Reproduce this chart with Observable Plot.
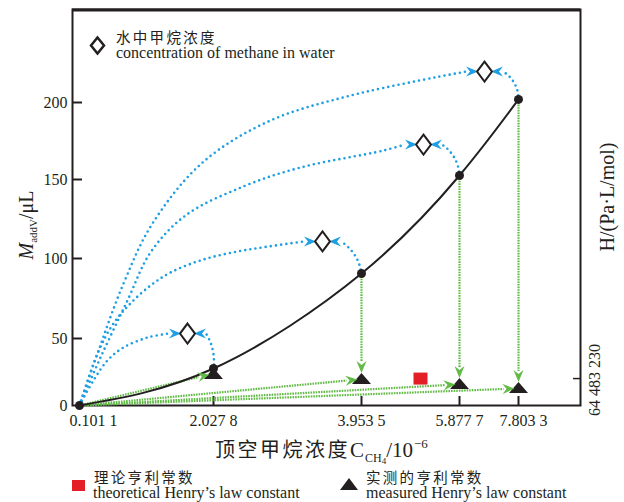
<!DOCTYPE html>
<html><head><meta charset="utf-8">
<script src="https://cdn.jsdelivr.net/npm/d3@7"></script>
<script src="https://cdn.jsdelivr.net/npm/@observablehq/plot@0.6"></script>
<style>
body{margin:0;background:#fff;}
#wrap{position:relative;width:624px;height:502px;overflow:hidden;font-family:"Liberation Serif","Noto Sans CJK SC",serif;color:#231f20;}
.t{position:absolute;white-space:nowrap;}
.cjk{font-family:"Noto Sans CJK SC",sans-serif;}
.rot{transform:translate(-50%,-50%) rotate(-90deg);}
</style></head><body>
<div id="wrap"><div id="chart"></div>
<div class="t cjk" style="left:116px;top:30px;font-size:14.5px;line-height:13px;letter-spacing:2.3px">水中甲烷浓度</div>
<div class="t" style="left:116px;top:46px;font-size:16px;line-height:13px">concentration of methane in water</div>

<div class="t" style="left:215px;top:439px;font-size:21px;line-height:20px"><span class="cjk" style="font-size:20px;letter-spacing:2.5px">顶空甲烷浓度</span>C<span style="font-size:12px;position:relative;top:5px;margin-left:1px">CH<span style="font-size:9px;position:relative;top:2px">4</span></span>/10<span style="font-size:13px;position:relative;top:-9px;margin-left:1px">−6</span></div>

<div class="t rot" style="left:27px;top:225px;font-size:20px;line-height:20px"><i>M</i><span style="font-size:11px;position:relative;top:4px">addV</span>/μL</div>
<div class="t rot" style="left:607px;top:197px;font-size:20px;line-height:20px">H/(Pa·L/mol)</div>
<div class="t rot" id="hlabel" style="left:595px;top:380px;font-size:16px;line-height:16px"></div>

<div class="t" style="left:72px;top:480px;width:13px;height:11px;background:#e41e26"></div>
<div class="t cjk" style="left:94px;top:470px;font-size:14.5px;line-height:13px;letter-spacing:2.3px">理论亨利常数</div>
<div class="t" style="left:93px;top:486px;font-size:16px;line-height:13px">theoretical Henry’s law constant</div>
<svg class="t" style="left:340px;top:478px" width="18" height="12"><path d="M9,0L18,12L0,12Z" fill="#231f20"/></svg>
<div class="t cjk" style="left:366px;top:470px;font-size:14.5px;line-height:13px;letter-spacing:2.3px">实测的亨利常数</div>
<div class="t" style="left:366px;top:486px;font-size:16px;line-height:13px">measured Henry’s law constant</div>
</div>
<script>
const BLACK = "#231f20", BLUE = "#1e9fe3", GREEN = "#62bb46", RED = "#e41e26";

// ---- data ----
const xTicks = [0.1011, 2.0278, 3.9535, 5.8777, 7.8033];
const xTickLabels = ["0.101 1", "2.027 8", "3.953 5", "5.877 7", "7.803 3"];
const yTicks = [0, 50, 100, 150, 200];
const curveY = [0, 27.6, 90.6, 152.6, 202];          // M_addV at each headspace concentration
const diamondX = [1.654, 3.446, 5.171, 6.694];       // concentration of methane in water
const diamondY = [53.1, 110.8, 172.7, 220.1];
const measuredH = [23.9, 20.1, 16.4, 13.4];          // measured Henry's constant (display level)
const theoreticalX = 5.112;
const theoreticalH = 20.1;
const theoreticalLabel = "64 483 230";
// blue dotted guide paths from origin to each diamond (waypoints)
const path1X = [0.302, 0.504, 0.734, 1.079];
const path1Y = [18.7, 33.6, 43.3, 50.6];
const path2X = [0.360, 0.590, 0.834, 1.122, 1.410, 1.884, 2.340, 2.743];
const path2Y = [38.8, 59.4, 71.9, 83.1, 91.25, 99.4, 104.4, 107.6];
const path3X = [0.403, 0.791, 1.122, 1.625, 2.418, 3.160, 4.385];
const path3Y = [35.8, 73.75, 103.8, 127.2, 145.6, 157.8, 168.8];
const path4X = [0.360, 0.734, 1.151, 1.870, 2.743, 3.810];
const path4Y = [38.8, 84.4, 122.2, 161.0, 187.7, 204.5];
const returnBend = [-20, -25, -27, -30];

document.getElementById("hlabel").textContent = theoreticalLabel;

// ---- non-uniform (schematic) axes: scale transforms ----
const xStops = [79, 213, 361, 459, 518];
const yStops = [405, 338, 258, 179, 102];
const sx = d3.scaleLinear(xTicks, xStops), sy = d3.scaleLinear(yTicks, yStops);
const toData = (px, py) => [sx.invert(px), sy.invert(py)];

const sym = pts => ({draw(ctx) { ctx.moveTo(pts[0][0], pts[0][1]); for (const p of pts.slice(1)) ctx.lineTo(p[0], p[1]); ctx.closePath(); }});
const barb = sym([[6,0],[-6,-5],[-2,0],[-6,5]]);
const diamond = sym([[0,-10],[7.5,0],[0,10],[-7.5,0]]);
const legendDiamond = sym([[0,-8],[6.5,0],[0,8],[-6.5,0]]);
const triangle = sym([[0,-5.5],[9.5,5.5],[-9.5,5.5]]);
const square = sym([[-7,-6],[7,-6],[7,6],[-7,6]]);

const curvePts = xTicks.map((x, i) => ({x, y: curveY[i]}));
const diamonds = diamondX.map((x, i) => ({x, y: diamondY[i]}));
const triangles = measuredH.map((y, i) => ({x: xTicks[i + 1], y}));

const DOTS = {stroke: BLUE, strokeWidth: 2.6, strokeDasharray: "0,5.2", strokeLinecap: "round"};

// blue guides
const paths = [[path1X, path1Y], [path2X, path2Y], [path3X, path3Y], [path4X, path4Y]];
const guides = paths.flatMap(([gx, gy], i) => {
  const end = toData(sx(diamondX[i]) - 18.5, sy(diamondY[i]));
  return [{x: xTicks[0], y: 0}, ...gx.map((x, j) => ({x, y: gy[j]})), {x: end[0], y: end[1]}].map(p => ({...p, g: i}));
});
const returnArrows = returnBend.map((b, i) => {
  const end = toData(sx(diamondX[i]) + 18.5, sy(diamondY[i]));
  return Plot.arrow([{x1: xTicks[i + 1], y1: curveY[i + 1], x2: end[0], y2: end[1]}],
    {x1: "x1", y1: "y1", x2: "x2", y2: "y2", bend: b, headLength: 0, insetStart: 4, ...DOTS});
});
const blueHeads = diamonds.flatMap((d) => {
  const l = toData(sx(d.x) - 12.5, sy(d.y)), r = toData(sx(d.x) + 12.5, sy(d.y));
  return [{x: l[0], y: l[1], r: 0}, {x: r[0], y: r[1], r: 180}];
});

// green guides
const O = [sx(xTicks[0]), sy(0)];
const gLinks = [], gHeads = [];
measuredH.forEach((h, i) => {
  const tip = [sx(xTicks[i + 1]) - 4, sy(h) + 1];
  const dxp = tip[0] - O[0], dyp = tip[1] - O[1], len = Math.hypot(dxp, dyp);
  const u = [dxp / len, dyp / len];
  const c = toData(tip[0] - u[0] * 6, tip[1] - u[1] * 6);
  const b = toData(tip[0] - u[0] * 11, tip[1] - u[1] * 11);
  gLinks.push({x1: xTicks[0], y1: 0, x2: b[0], y2: b[1]});
  gHeads.push({x: c[0], y: c[1], r: Math.atan2(u[1], u[0]) * 180 / Math.PI});
  if (i > 0) {
    const top = sy(h) - 5.5;
    gLinks.push({x1: xTicks[i + 1], y1: curveY[i + 1], x2: xTicks[i + 1], y2: sy.invert(top - 11)});
    gHeads.push({x: xTicks[i + 1], y: sy.invert(top - 6), r: 90});
  }
});

// axis ticks are given in the transformed (display) units
const nearest = (arr, d) => d3.minIndex(arr, v => Math.abs(v - d));
const fmtX = d => xTickLabels[nearest(xStops, d)];
const fmtY = d => String(yTicks[nearest(yStops, d)]);
const XT = xTicks.map(sx), YT = yTicks.map(sy);

const W = 624, H = 466, ML = 72, MR = 44, MT = 9, MB = 61;
const chart = Plot.plot({
  width: W, height: H,
  marginLeft: ML, marginRight: MR, marginTop: MT, marginBottom: MB,
  style: {fontFamily: "'Liberation Serif','Noto Sans CJK SC',serif", fontSize: "16px", color: BLACK, background: "white"},
  x: {type: "linear", transform: sx, domain: [ML, W - MR], label: null},
  y: {type: "linear", transform: sy, domain: [H - MB, MT], label: null},
  marks: [
    Plot.frame({stroke: BLACK, strokeWidth: 2}),
    Plot.ruleY([MT + 0.5], {y: d => sy.invert(d), stroke: BLACK, strokeWidth: 3}),
    // axes
    Plot.axisY({ticks: YT, tickSize: 0, tickPadding: 5, tickFormat: fmtY, label: null, fontSize: 16}),
    Plot.axisY({ticks: YT.slice(1), tickSize: 10, dx: 10, fill: "none", strokeWidth: 2, label: null}),
    Plot.axisX({ticks: XT.slice(1, 4), tickSize: 0, tickPadding: 9, tickFormat: fmtX, label: null, fontSize: 16}),
    Plot.axisX({ticks: [XT[0]], tickSize: 0, tickPadding: 9, dx: 14, tickFormat: fmtX, label: null, fontSize: 16}),
    Plot.axisX({ticks: [XT[4]], tickSize: 0, tickPadding: 9, dx: 5, tickFormat: fmtX, label: null, fontSize: 16}),
    Plot.axisX({ticks: XT.slice(1), tickSize: 9, dy: -9, fill: "none", strokeWidth: 2, label: null}),
    Plot.axisY({anchor: "right", ticks: [sy(theoreticalH)], tickSize: 8, dx: -8, fill: "none", strokeWidth: 1.5, label: null}),
    // green dotted guides
    Plot.link(gLinks, {x1: "x1", y1: "y1", x2: "x2", y2: "y2", stroke: GREEN, strokeWidth: 2.2, strokeDasharray: "1.6,1"}),
    // blue dotted guides
    Plot.line(guides, {x: "x", y: "y", z: "g", curve: "catmull-rom", ...DOTS}),
    ...returnArrows,
    // curve
    Plot.line(curvePts, {x: "x", y: "y", curve: "natural", stroke: BLACK, strokeWidth: 2}),
    // triangles, square
    Plot.dot(triangles, {x: "x", y: "y", symbol: triangle, fill: BLACK, stroke: "none"}),
    Plot.dot([{x: theoreticalX, y: theoreticalH}], {x: "x", y: "y", symbol: square, fill: RED, stroke: "none"}),
    // heads
    Plot.dot(gHeads, {x: "x", y: "y", rotate: "r", symbol: barb, fill: GREEN, stroke: "none"}),
    Plot.dot(blueHeads, {x: "x", y: "y", rotate: "r", symbol: barb, fill: BLUE, stroke: "none"}),
    // diamonds
    Plot.dot(diamonds, {x: "x", y: "y", symbol: diamond, fill: "white", stroke: BLACK, strokeWidth: 2}),
    // curve points
    Plot.dot(curvePts, {x: "x", y: "y", r: 4.5, fill: BLACK, stroke: "none"}),
    // legend symbol
    Plot.dot([0], {frameAnchor: "top-left", dx: 25, dy: 36, symbol: legendDiamond, fill: "white", stroke: BLACK, strokeWidth: 2.5})
  ]
});
document.getElementById("chart").appendChild(chart);
</script>
</body></html>
